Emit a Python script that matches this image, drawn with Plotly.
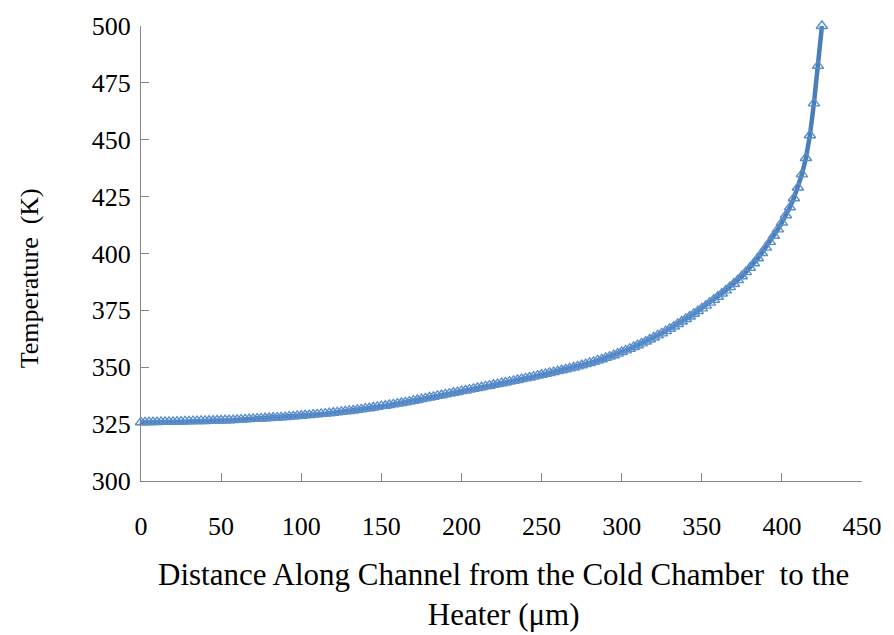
import plotly.graph_objects as go

# Distance along channel (µm), sampled every 2.5 µm
distance_um = [i * 2.5 for i in range(171)]

# Temperature (K) at each sample
temperature_K = [
    325.8, 325.8, 325.9, 325.9, 325.9, 326.0, 326.0, 326.0, 326.0, 326.1,
    326.1, 326.2, 326.2, 326.3, 326.3, 326.4, 326.4, 326.5, 326.5, 326.6,
    326.6, 326.7, 326.7, 326.8, 326.9, 327.0, 327.1, 327.2, 327.3, 327.4,
    327.5, 327.6, 327.7, 327.8, 327.9, 328.0, 328.1, 328.3, 328.4, 328.6,
    328.7, 328.9, 329.0, 329.2, 329.3, 329.5, 329.6, 329.8, 330.0, 330.2,
    330.4, 330.6, 330.8, 331.0, 331.3, 331.5, 331.8, 332.0, 332.3, 332.6,
    332.9, 333.1, 333.4, 333.7, 334.0, 334.3, 334.6, 334.9, 335.3, 335.6,
    336.0, 336.3, 336.7, 337.0, 337.4, 337.7, 338.1, 338.4, 338.8, 339.1,
    339.5, 339.8, 340.2, 340.5, 340.9, 341.2, 341.6, 341.9, 342.3, 342.6,
    343.0, 343.3, 343.7, 344.0, 344.4, 344.8, 345.1, 345.5, 345.9, 346.3,
    346.7, 347.1, 347.5, 347.9, 348.3, 348.7, 349.1, 349.5, 349.9, 350.4,
    350.9, 351.4, 351.9, 352.4, 353.0, 353.5, 354.1, 354.7, 355.3, 356.0,
    356.7, 357.4, 358.1, 358.9, 359.7, 360.5, 361.3, 362.2, 363.1, 364.0,
    364.9, 365.9, 366.9, 367.9, 369.0, 370.1, 371.2, 372.3, 373.5, 374.7,
    375.9, 377.1, 378.4, 379.7, 381.0, 382.4, 383.8, 385.2, 386.7, 388.3,
    390.0, 391.8, 393.7, 395.7, 397.9, 400.2, 402.6, 405.1, 407.8, 410.6,
    413.6, 416.8, 420.3, 424.3, 429.0, 434.8, 442.0, 452.0, 466.0, 482.5,
    500.0,
]

x_ticks = [0, 50, 100, 150, 200, 250, 300, 350, 400, 450]
y_ticks = [300, 325, 350, 375, 400, 425, 450, 475, 500]

x_title = "Distance Along Channel from the Cold Chamber  to the<br>Heater (\u03bcm)"
y_title = "Temperature  (K)"

FONT = "Liberation Serif, Times New Roman, serif"
AXIS_COLOR = "#868686"

fig = go.Figure()
fig.add_trace(go.Scatter(
    x=distance_um, y=temperature_K,
    mode="lines+markers",
    line=dict(color="#4A7EBB", width=4.5),
    marker=dict(symbol="triangle-up-open", size=10,
                color="#5B8FCB", line=dict(width=1.4, color="#5B8FCB")),
    showlegend=False,
    cliponaxis=False,
))

fig.update_layout(
    width=894, height=635,
    margin=dict(l=141, r=26, t=21, b=154),
    paper_bgcolor="white", plot_bgcolor="white",
    font=dict(family=FONT, size=26, color="#000000"),
    xaxis=dict(
        range=[0, 450], tickvals=x_ticks, ticks="inside", ticklen=8,
        tickcolor=AXIS_COLOR, showline=True, linecolor=AXIS_COLOR,
        linewidth=1.3, showgrid=False, zeroline=False,
        ticklabelstandoff=22,
        tickfont=dict(family=FONT, size=26, color="#000000"),
    ),
    yaxis=dict(
        range=[300, 500], tickvals=y_ticks, ticks="inside", ticklen=8,
        tickcolor=AXIS_COLOR, showline=True, linecolor=AXIS_COLOR,
        linewidth=1.3, showgrid=False, zeroline=False,
        ticklabelstandoff=4,
        tickfont=dict(family=FONT, size=26, color="#000000"),
    ),
    annotations=[
        dict(text=x_title, xref="paper", yref="paper", x=0.503, y=-0.163,
             xanchor="center", yanchor="top", showarrow=False,
             font=dict(family=FONT, size=31, color="#000000")),
        dict(text=y_title, xref="paper", yref="paper", x=-0.155, y=0.446,
             xanchor="center", yanchor="middle", showarrow=False,
             textangle=-90,
             font=dict(family=FONT, size=26, color="#000000")),
    ],
)

fig.write_html("out.html")
